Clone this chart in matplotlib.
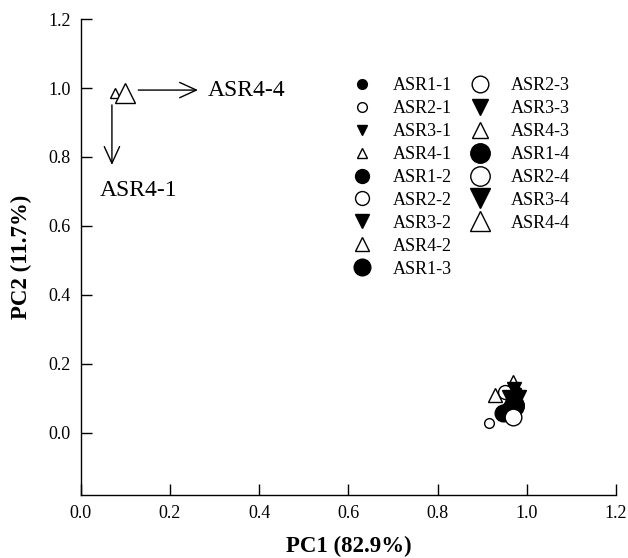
import matplotlib
matplotlib.use('Agg')
import matplotlib.pyplot as plt

plt.rcParams['font.family'] = ['Liberation Serif', 'DejaVu Serif']

# PCA scores
samples = ['ASR1-1', 'ASR2-1', 'ASR3-1', 'ASR4-1',
           'ASR1-2', 'ASR2-2', 'ASR3-2', 'ASR4-2',
           'ASR1-3', 'ASR2-3', 'ASR3-3', 'ASR4-3',
           'ASR1-4', 'ASR2-4', 'ASR3-4', 'ASR4-4']
pc1 = [0.965, 0.916, 0.975, 0.077,
       0.958, 0.951, 0.972, 0.929,
       0.947, 0.970, 0.980, 0.970,
       0.972, 0.972, 0.966, 0.099]
pc2 = [0.085, 0.030, 0.115, 0.985,
       0.070, 0.120, 0.128, 0.110,
       0.057, 0.047, 0.100, 0.145,
       0.078, 0.080, 0.096, 0.985]

# order in which the points overlap in the cluster
draw_order = ['ASR2-4', 'ASR4-3', 'ASR2-2', 'ASR4-2', 'ASR3-2', 'ASR3-4',
              'ASR3-3', 'ASR3-1', 'ASR1-4', 'ASR1-3', 'ASR1-2', 'ASR1-1',
              'ASR2-3', 'ASR2-1', 'ASR4-1', 'ASR4-4']

# style per group (ASRx) and per sampling (-y)
group_style = {'ASR1': ('o', 'black'), 'ASR2': ('o', 'white'),
               'ASR3': ('v', 'black'), 'ASR4': ('^', 'white')}
size_style = {'1': 7, '2': 10, '3': 12, '4': 14}

fig = plt.figure(figsize=(6.28, 5.58), dpi=100)
ax = fig.add_axes([0.1285, 0.1129, 0.8524, 0.8530])

handles = {}
for name in draw_order:
    i = samples.index(name)
    grp, rep = name.split('-')
    mk, fc = group_style[grp]
    ln, = ax.plot(pc1[i], pc2[i], linestyle='none', marker=mk,
                  markersize=size_style[rep], markerfacecolor=fc,
                  markeredgecolor='black', markeredgewidth=1.0)
    handles[name] = ln

ax.set_xlim(0, 1.2)
ax.set_ylim(-0.18, 1.2)
ax.set_xticks([0.0, 0.2, 0.4, 0.6, 0.8, 1.0, 1.2])
ax.set_yticks([0.0, 0.2, 0.4, 0.6, 0.8, 1.0, 1.2])
ax.xaxis.set_major_formatter(plt.FormatStrFormatter('%.1f'))
ax.yaxis.set_major_formatter(plt.FormatStrFormatter('%.1f'))
ax.tick_params(direction='in', length=8, width=1, labelsize=13, pad=7)
for s in ['top', 'right']:
    ax.spines[s].set_visible(False)
for s in ['left', 'bottom']:
    ax.spines[s].set_linewidth(1.0)

ax.set_xlabel('PC1 (82.9%)', fontsize=16.5, fontweight='bold', labelpad=10)
ax.set_ylabel('PC2 (11.7%)', fontsize=16.5, fontweight='bold', labelpad=12)

# arrows pointing at ASR4-1 / ASR4-4
arrow = dict(arrowstyle='->,head_length=1.2,head_width=0.55', lw=1.0,
             color='black', shrinkA=0, shrinkB=0)
ax.annotate('', xy=(0.263, 0.994), xytext=(0.129, 0.994), arrowprops=arrow)
ax.annotate('', xy=(0.070, 0.777), xytext=(0.070, 0.951), arrowprops=arrow)
ax.text(0.284, 0.994, 'ASR4-4', fontsize=17, ha='left', va='center')
ax.text(0.043, 0.704, 'ASR4-1', fontsize=17, ha='left', va='center')

col1 = samples[:9]
col2 = samples[9:]
leg_kw = dict(loc='upper left', frameon=False, fontsize=13, handlelength=1.0,
              handletextpad=1.2, labelspacing=0.33, borderpad=0,
              borderaxespad=0, bbox_transform=fig.transFigure)
leg1 = ax.legend([handles[n] for n in col1], col1,
                 bbox_to_anchor=(353 / 628, 1 - 77 / 558), **leg_kw)
ax.add_artist(leg1)
ax.legend([handles[n] for n in col2], col2,
          bbox_to_anchor=(471 / 628, 1 - 77 / 558), **leg_kw)

fig.savefig('out.png', dpi=100)
